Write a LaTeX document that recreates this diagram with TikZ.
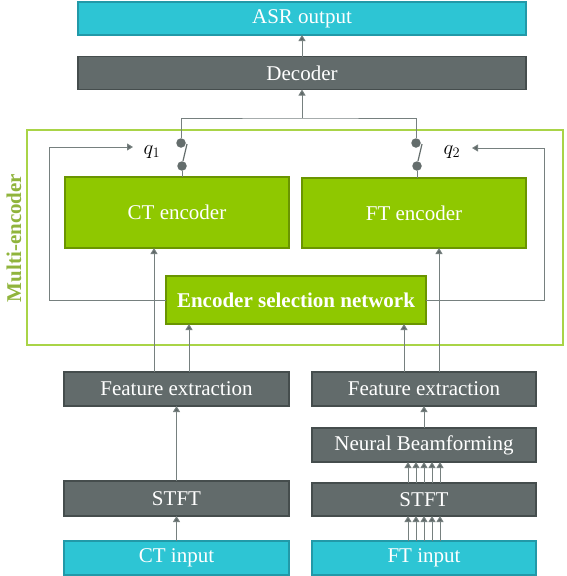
\documentclass[tikz,border=0pt]{standalone}
\usepackage{fontspec}
\setmainfont{Liberation Serif}
\newfontfamily\labelfont{Liberation Serif}
\usepackage{amsmath}
\usepackage{tikz}
\usetikzlibrary{positioning}
\usetikzlibrary{calc}
\usetikzlibrary{arrows.meta}
\definecolor{cyanbox}{HTML}{2DC5D4}
\definecolor{cyanedge}{HTML}{2299A8}
\definecolor{graybox}{HTML}{626B6B}
\definecolor{grayedge}{HTML}{454D4D}
\definecolor{greenbox}{HTML}{8FC800}
\definecolor{greenedge}{HTML}{6A9500}
\definecolor{greenframe}{HTML}{A9D447}
\definecolor{wire}{HTML}{76807F}
\tikzset{>=stealth}
\tikzstyle{line} = [draw=wire, line width=1pt, -{Triangle[width=7pt,length=6pt,fill=wire!80!black]}]

\begin{document}
\begin{tikzpicture}[
  x=1pt, y=-1pt,
  every node/.style={font=\labelfont\fontsize{21}{25}\selectfont},
  box/.style={draw, rectangle, line width=1.2pt, inner sep=0pt, outer sep=0pt, text=white},
  io/.style={box, fill=cyanbox, draw=cyanedge},
  stage/.style={box, fill=graybox, draw=grayedge},
  enc/.style={box, fill=greenbox, draw=greenedge},
  dot/.style={circle, fill=wire!85!black, inner sep=0pt, minimum size=9.5pt}]
  \useasboundingbox (0,0) rectangle (566,576);
	%% Frame
	\draw [greenframe, line width=1.5pt] (27,130) rectangle (563,345);
	\node [rotate=90, text=greenframe!85!black, font=\labelfont\fontsize{21}{25}\selectfont\bfseries] at (14,238) (Multi) {Multi-encoder};
	%% Blocks
	\node [io, minimum width=448pt, minimum height=33pt] at (302,18.5) (ASR) {ASR output};
	\node [stage, minimum width=448pt, minimum height=33pt] at (302,73) (Dec) {Decoder};
	\node [enc, minimum width=224pt, minimum height=71pt] at (177,212.5) (CTenc) {CT encoder};
	\node [enc, minimum width=224pt, minimum height=70pt] at (414,213) (FTenc) {FT encoder};
	\node [enc, minimum width=260pt, minimum height=48pt, font=\labelfont\fontsize{21}{25}\selectfont\bfseries] at (296,300) (ESN) {Encoder selection network};
	\node [stage, minimum width=225pt, minimum height=34pt] at (176.5,389) (FEct) {Feature extraction};
	\node [stage, minimum width=224pt, minimum height=34pt] at (424,389) (FEft) {Feature extraction};
	\node [stage, minimum width=224pt, minimum height=34pt] at (424,445) (NBF) {Neural Beamforming};
	\node [stage, minimum width=225pt, minimum height=35pt] at (176.5,498.5) (STFTct) {STFT};
	\node [stage, minimum width=224pt, minimum height=33pt] at (424,499.5) (STFTft) {STFT};
	\node [io, minimum width=225pt, minimum height=34pt] at (176.5,558) (CTin) {CT input};
	\node [io, minimum width=224pt, minimum height=34pt] at (424,558) (FTin) {FT input};
	%% Switches
	\node [dot] at (181,143) (S1a) {};
	\node [dot] at (182,166) (S1b) {};
	\node [dot] at (416,143) (S2a) {};
	\node [dot] at (417,166) (S2b) {};
	\node [font=\fontsize{22}{26}\selectfont] at (152,152) (Q1) {$q_1$};
	\node [font=\fontsize{22}{26}\selectfont] at (452,152) (Q2) {$q_2$};
	\coordinate (Join) at (302,118);
	\coordinate (Q1in) at (133,147);
	\coordinate (Q2in) at (472,148);
	\coordinate (Xa) at (154,0);
	\coordinate (Xb) at (189,0);
	\coordinate (Xc) at (404,0);
	\coordinate (Xd) at (439,0);
	%% Flows
	\path [line] (Dec) to (ASR);
	\draw [wire, line width=1pt] (S1a) |- (Join) -| (S2a);
	\path [line] (Join) to (Dec);
	\draw [wire, line width=1pt] (S1b) -- (S1b |- CTenc.north);
	\draw [wire, line width=1pt] (S2b) -- (S2b |- FTenc.north);
	\draw [wire!85!black, line width=1.2pt] ($(S1b)+(1,-5)$) -- ($(S1a)+(6,1)$);
	\draw [wire!85!black, line width=1.2pt] ($(S2b)+(1,-5)$) -- ($(S2a)+(6,1)$);
	\path [line] (ESN.west) -- ++(-117,0) |- (Q1in);
	\path [line] (ESN.east) -- ++(118,0) |- (Q2in);
	\path [line] (FEct.north -| Xa) -- (CTenc.south -| Xa);
	\path [line] (FEct.north -| Xb) -- (ESN.south -| Xb);
	\path [line] (FEft.north -| Xc) -- (ESN.south -| Xc);
	\path [line] (FEft.north -| Xd) -- (FTenc.south -| Xd);
	\path [line] (STFTct) to (FEct);
	\path [line] (CTin) to (STFTct);
	\path [line] (NBF) to (FEft);
	\foreach \dx in {-16,-8,0,8,16} {
	  \path [line] ([xshift=\dx pt]FTin.north) -- ([xshift=\dx pt]STFTft.south);
	  \path [line] ([xshift=\dx pt]STFTft.north) -- ([xshift=\dx pt]NBF.south);
	}
\end{tikzpicture}
\end{document}
